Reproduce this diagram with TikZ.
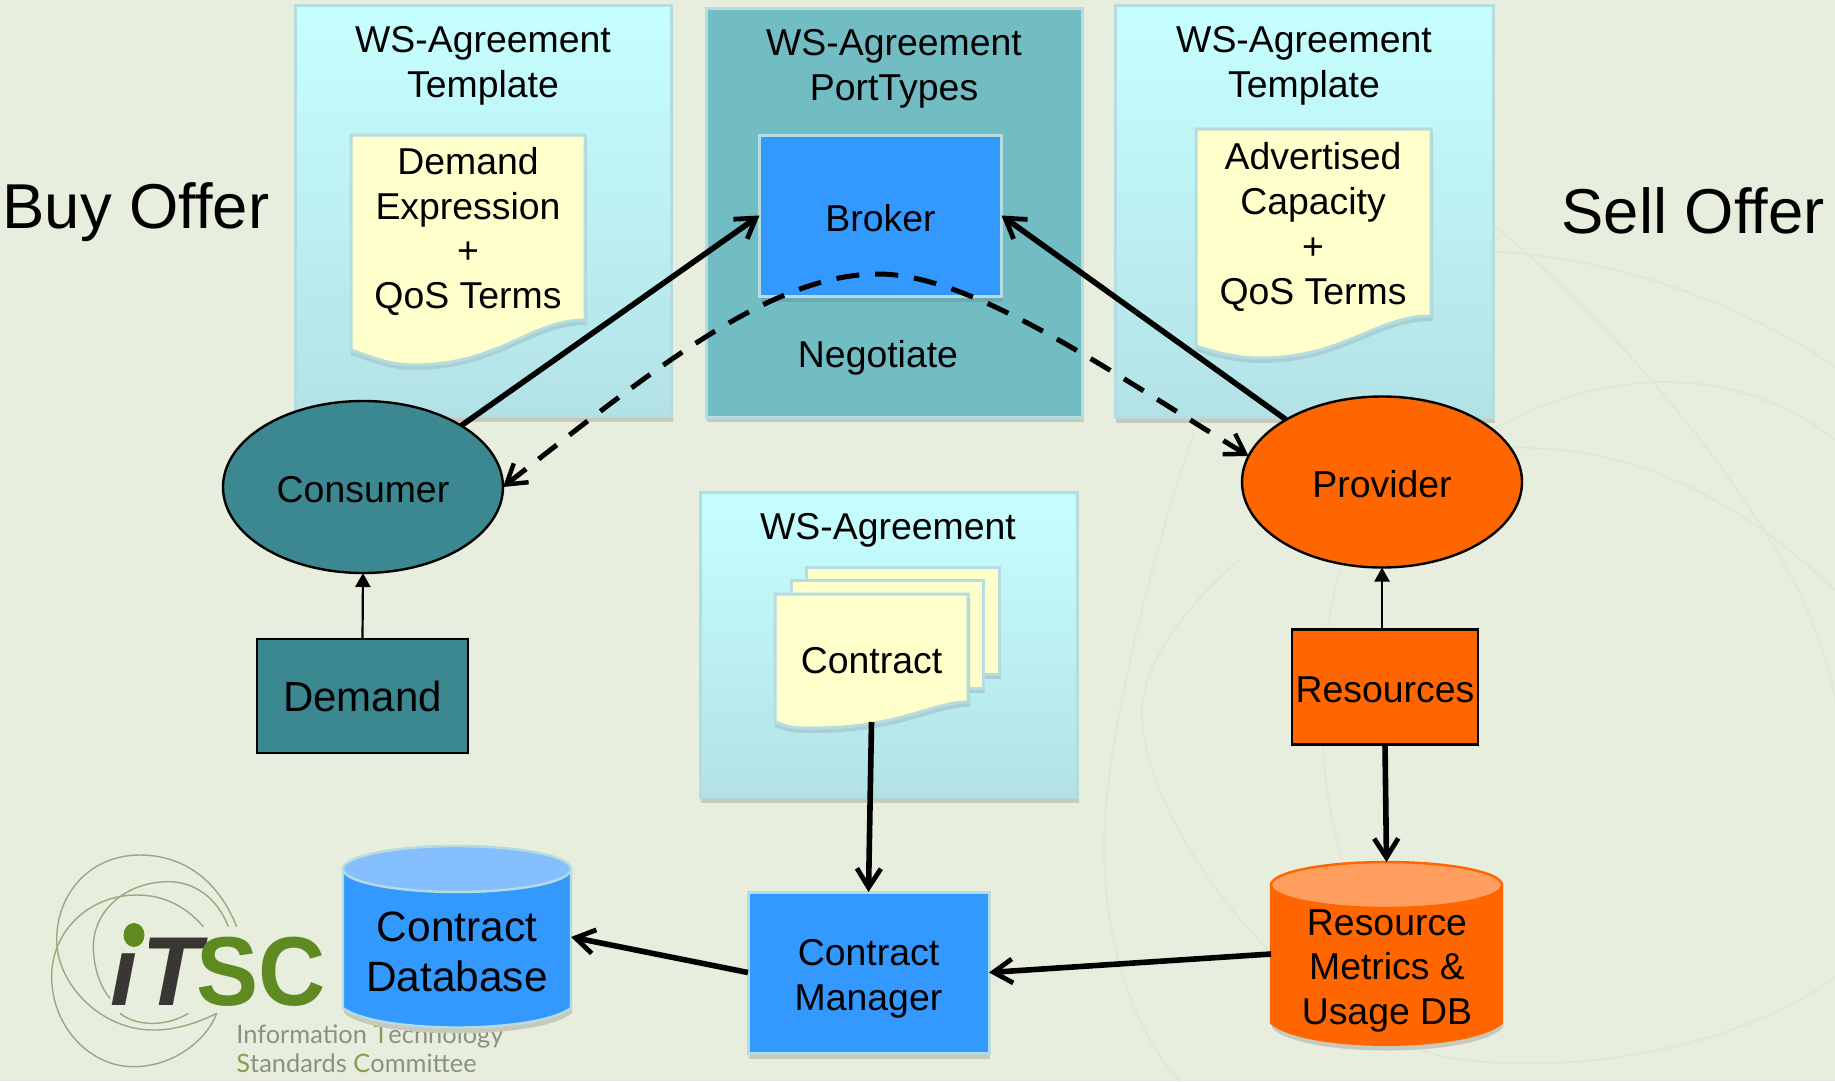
\documentclass[tikz,border=0pt]{standalone}
\usepackage{fontspec}
\setmainfont{Liberation Sans}
\newfontfamily\logofont{Lato}
\usetikzlibrary{arrows.meta,shapes.geometric}
\definecolor{bgc}{HTML}{E8EEDD}
\definecolor{panelTop}{HTML}{C6FFFF}
\definecolor{panelBot}{HTML}{B3E2E6}
\definecolor{panelEdge}{HTML}{B5DDDF}
\definecolor{shadowc}{HTML}{C6C9BB}
\definecolor{tealpanel}{HTML}{72BDC4}
\definecolor{tealshadow}{HTML}{6AAAB0}
\definecolor{tealc}{HTML}{3B8890}
\definecolor{docc}{HTML}{FFFFCC}
\definecolor{docshadowc}{HTML}{A8D0D4}
\definecolor{bluec}{HTML}{3399FF}
\definecolor{bluetop}{HTML}{85BFFF}
\definecolor{orangec}{HTML}{FF6600}
\definecolor{orangetop}{HTML}{FF9E5E}
\definecolor{faint}{HTML}{E0E7D5}
\definecolor{logoline}{HTML}{9CA67F}
\definecolor{logogreen}{HTML}{5F8A22}
\definecolor{logodark}{HTML}{3A3634}
\definecolor{logogrey}{HTML}{8C9080}
\definecolor{logoolive}{HTML}{8F9A55}
\newcommand{\szA}{\fontsize{18.7}{22.4}\selectfont}
\newcommand{\szB}{\fontsize{21.2}{25.2}\selectfont}
\newcommand{\szC}{\fontsize{21}{25}\selectfont}
\newcommand{\szD}{\fontsize{31.7}{36}\selectfont}
\tikzset{
  x=0.5pt,y=-0.5pt,
  lbl/.style={inner sep=0pt,outer sep=0pt,align=center,font=\szA},
  panelshade/.style={top color=panelTop,bottom color=panelBot,draw=panelEdge,line width=1.5pt},
  docfill/.style={fill=docc,draw=panelEdge,line width=1.5pt},
  docshadow/.style={fill=docshadowc,draw=none},
  boxnode/.style={lbl,draw=black,line width=1.4pt,rectangle},
  solidnode/.style={lbl,rectangle,draw=panelEdge,line width=1.5pt,fill=bluec},
  ellnode/.style={lbl,ellipse,draw=black,line width=1.2pt,inner sep=0pt},
  plainhold/.style={lbl,rectangle,draw=none},
  lowtext/.style={label={[lbl,yshift=-1.2pt]center:#1}},
  bigarrow/.style={line width=2.8pt,-{Straight Barb[length=9.5pt,width=12pt,line width=2.4pt]}},
  dasharrow/.style={line width=2.5pt,dash pattern=on 11.5pt off 8pt,{Straight Barb[length=9.5pt,width=12pt,line width=2.2pt]}-{Straight Barb[length=9.5pt,width=12pt,line width=2.2pt]}},
  thinarrow/.style={line width=1.1pt,-{Triangle[length=7pt,width=7.5pt]}},
  bgarc/.style={draw=faint,line width=0.8pt},
  logoarc/.style={draw=logoline,line width=0.7pt},
}
\newcommand{\panelbox}[4]{% x1 y1 x2 y2
  \fill[shadowc] (#1+1,#2+6) rectangle (#3+2,#4+6);
  \path[panelshade] (#1,#2) rectangle (#3,#4);
}
\newcommand{\docbox}[8]{% x1 y1 x2 leftY troughX troughY rightY midX
  \fill[docshadow] (#1,#2+4) -- (#3+2,#2+4) -- (#3+2,#7+5) .. controls (#8+60,#7+5) and (#8+30,#6+5) .. (#5,#6+5) .. controls (#5-25,#6+5) and (#1+15,#4+10) .. (#1,#4+5) -- cycle;
  \path[docfill] (#1,#2) -- (#3,#2) -- (#3,#7) .. controls (#8+60,#7) and (#8+30,#6) .. (#5,#6) .. controls (#5-25,#6) and (#1+15,#4+5) .. (#1,#4) -- cycle;
}
\newcommand{\cyl}[9]{% x1 x2 ytop ymid ybody ybottom fill topfill edge
  \fill[shadowc] (#1+1,#4+3) -- (#1+1,#5+5) .. controls (#1+30,#6+12) and (#2-30,#6+12) .. (#2+1,#5+5) -- (#2+1,#4+3) -- cycle;
  \path[fill=#7,draw=#9,line width=1.2pt] (#1,#4) -- (#1,#5) .. controls (#1+35,#6+6) and (#2-35,#6+6) .. (#2,#5) -- (#2,#4) -- cycle;
  \path[fill=#8,draw=#9,line width=1.2pt] ({(#1+#2)/2},#4) ellipse ({(#2-#1)/2} and {#4-#3});
}
\begin{document}
\begin{tikzpicture}
\useasboundingbox (0,0) rectangle (1835,1081);
\fill[bgc] (0,0) rectangle (1835,1081);
% faint background arcs
\begin{scope}
\clip (0,0) rectangle (1835,1081);
\draw[bgarc] (1494,226) .. controls (1600,310) and (1740,470) .. (1803,600) .. controls (1820,640) and (1830,670) .. (1835,700);
\draw[bgarc] (1494,252) .. controls (1600,255) and (1740,300) .. (1835,367);
\draw[bgarc] (1494,429) .. controls (1580,380) and (1720,350) .. (1835,440);
\draw[bgarc] (1513,448) .. controls (1620,445) and (1730,490) .. (1835,590);
\draw[bgarc] (1194,432) .. controls (1150,560) and (1100,760) .. (1104,860) .. controls (1108,960) and (1140,1040) .. (1180,1081);
\draw[bgarc] (1239,560) .. controls (1170,620) and (1135,680) .. (1143,727) .. controls (1150,830) and (1300,1040) .. (1465,1060) .. controls (1600,1075) and (1750,1040) .. (1835,977);
\draw[bgarc] (1340,570) .. controls (1310,680) and (1320,790) .. (1345,870);
\end{scope}
% logo
\node[inner sep=0pt,font=\fontsize{49}{49}\selectfont\bfseries\itshape,text=logodark,anchor=base west] (logoi) at (110,1005) {i\kern2pt T};
\fill[bgc] (118,922) rectangle (149,950);
\begin{scope}[shift={(40,840)},x=0.1667pt,y=-0.1667pt]
\draw[logoarc] (590,260) .. controls (530,110) and (420,45) .. (300,45) .. controls (150,45) and (50,160) .. (50,300) .. controls (50,430) and (180,570) .. (340,570) .. controls (420,570) and (490,540) .. (530,520);
\draw[logoarc] (490,260) .. controls (430,190) and (360,165) .. (290,165) .. controls (150,165) and (35,270) .. (35,410) .. controls (35,560) and (150,680) .. (280,680) .. controls (400,680) and (500,600) .. (530,520);
\draw[logoarc] (565,260) .. controls (530,170) and (460,125) .. (385,125) .. controls (260,125) and (160,210) .. (160,320) .. controls (160,380) and (180,440) .. (210,475);
\draw[logoarc] (240,520) .. controls (290,560) and (380,560) .. (445,520);
\end{scope}
\fill[logogreen] (134,935) circle [x radius=10.5,y radius=12];
\node[inner sep=0pt,font=\fontsize{49}{49}\selectfont\bfseries,text=logogreen,anchor=base west,xscale=0.95,transform shape] (logosc) at (196,1005) {SC};
\node[inner sep=0pt,anchor=base west,font=\logofont\fontsize{12.7}{14}\selectfont,text=logogrey] (logoa) at (236,1043) {Information \textcolor{logoolive}{T}echnology};
\node[inner sep=0pt,anchor=base west,font=\logofont\fontsize{12.7}{14}\selectfont,text=logogrey] (logob) at (236,1072) {\textcolor{logoolive}{S}tandards \textcolor{logoolive}{C}ommittee};
% panels
\panelbox{295}{6}{671}{416}
\fill[shadowc] (707,15) rectangle (1084,422);
\path[fill=tealpanel,draw=panelEdge,line width=1.5pt] (706,9) rectangle (1082,417);
\panelbox{1115}{6}{1493}{417}
\panelbox{700}{492}{1077}{797}
\node[lbl] (t1) at (483,66) {WS-Agreement\\Template};
\node[lbl] (t2) at (894,69) {WS-Agreement\\PortTypes};
\node[lbl] (t3) at (1304,66) {WS-Agreement\\Template};
\node[lbl] (t4) at (888,530) {WS-Agreement};
% documents
\docbox{351}{135}{585}{350}{413}{365}{320}{470}
\node[lbl] (demandexp) at (468,231.5) {Demand\\Expression\\+\\QoS Terms};
\docbox{1196}{129}{1431}{346}{1259}{358}{316}{1315}
\node[lbl] (advert) at (1313,227) {Advertised\\Capacity\\+\\QoS Terms};
\fill[docshadow] (808,572) rectangle (1001,679);
\path[docfill] (806,567) rectangle (999,674);
\fill[docshadow] (793,585) rectangle (985,693);
\path[docfill] (791,580) rectangle (983,688);
\docbox{775}{594}{968}{722}{813}{728}{702}{871}
\node[plainhold,minimum width=96.5pt,minimum height=64pt,lowtext={\raisebox{-0.6pt}{Contract}}] (contract) at (871.5,658) {};
% broker and other boxes
\fill[tealshadow] (761,139) rectangle (1003,302);
\node[solidnode,minimum width=121pt,minimum height=80.5pt,lowtext=Broker] (broker) at (880.5,215.5) {};
\node[lbl] (negotiate) at (878,358) {Negotiate};
\fill[shadowc] (749,896) rectangle (990,1059);
\node[solidnode,minimum width=120.5pt,minimum height=80.5pt] (manager) at (868.5,972.5) {};
\node[lbl] (managertext) at (868.5,978.5) {Contract\\Manager};
\node[boxnode,fill=tealc,font=\szC,minimum width=105.5pt,minimum height=57pt] (demand) at (362.5,696) {Demand};
\node[boxnode,fill=orangec,minimum width=93pt,minimum height=57.5pt,lowtext=Resources] (resources) at (1385,687) {};
\node[ellnode,fill=tealc,minimum width=140pt,minimum height=86pt,lowtext=Consumer] (consumer) at (363,487) {};
\node[ellnode,fill=orangec,minimum width=140pt,minimum height=85.5pt,lowtext=Provider] (provider) at (1382,482) {};
% cylinders
\cyl{343}{571}{846}{869}{1008}{1028}{bluec}{bluetop}{panelEdge}
\node[plainhold,minimum width=114pt,minimum height=91pt] (database) at (457,937) {};
\node[lbl,font=\szB] (databasetext) at (457,952) {Contract\\Database};
\cyl{1271}{1502}{862}{885}{1023}{1046}{orangec}{orangetop}{orangec}
\node[plainhold,minimum width=115.5pt,minimum height=92pt] (metrics) at (1386.5,954) {};
\node[lbl] (metricstext) at (1387,971) {Resource\\Metrics \&\\Usage DB};
% side labels
\node[lbl,font=\szD] (buy) at (136,212) {Buy Offer};
\node[lbl,font=\szD] (sell) at (1693,211) {Sell Offer};
% connectors
\draw[bigarrow] (consumer.32) -- (broker.west);
\draw[bigarrow] (provider.147) -- (broker.east);
\draw[dasharrow] (consumer.east) .. controls (650,372) and (770,274) .. (878,274) .. controls (970,274) and (1100,365) .. (provider.169);
\draw[thinarrow] (demand.north) -- (consumer.south);
\draw[thinarrow] ([yshift=1pt]resources.north -| provider.south) -- (provider.south);
\draw[bigarrow] (resources.south) -- (metrics.north);
\draw[bigarrow] (contract.south) -- (manager.north);
\draw[bigarrow] (manager.west) -- (database.east);
\draw[bigarrow] (metrics.west) -- (manager.east);
\end{tikzpicture}
\end{document}
